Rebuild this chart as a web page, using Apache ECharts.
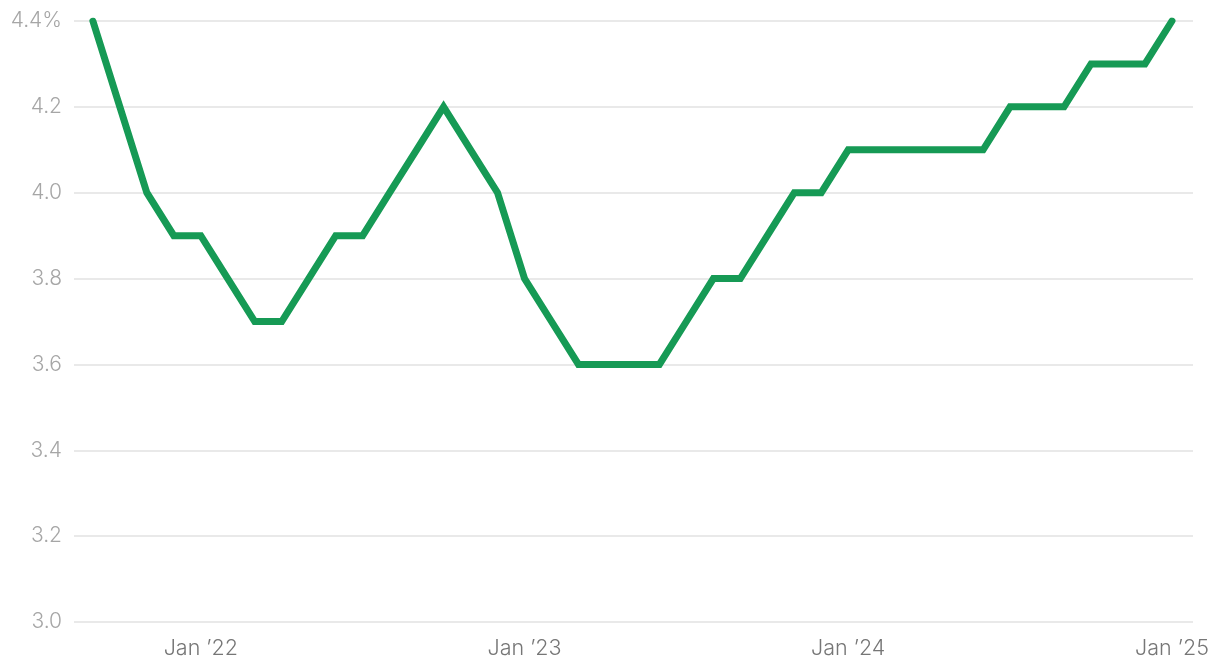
<!DOCTYPE html>
<html>
<head>
<meta charset="utf-8">
<script src="https://cdn.jsdelivr.net/npm/echarts@6/dist/echarts.min.js"></script>
<style>
html,body{margin:0;padding:0;background:#fff;}
#chart{width:1220px;height:672px;}
</style>
</head>
<body>
<div id="chart"></div>
<script>
const months = ['2021-09','2021-10','2021-11','2021-12',
  '2022-01','2022-02','2022-03','2022-04','2022-05','2022-06','2022-07','2022-08','2022-09','2022-10','2022-11','2022-12',
  '2023-01','2023-02','2023-03','2023-04','2023-05','2023-06','2023-07','2023-08','2023-09','2023-10','2023-11','2023-12',
  '2024-01','2024-02','2024-03','2024-04','2024-05','2024-06','2024-07','2024-08','2024-09','2024-10','2024-11','2024-12',
  '2025-01'];
const values = [4.4,4.2,4.0,3.9,
  3.9,3.8,3.7,3.7,3.8,3.9,3.9,4.0,4.1,4.2,4.1,4.0,
  3.8,3.7,3.6,3.6,3.6,3.6,3.7,3.8,3.8,3.9,4.0,4.0,
  4.1,4.1,4.1,4.1,4.1,4.1,4.2,4.2,4.2,4.3,4.3,4.3,
  4.4];
const xTickMonths = ['2022-01','2023-01','2024-01','2025-01'];
const yTicks = [3.0,3.2,3.4,3.6,3.8,4.0,4.2,4.4];

const seriesData = months.map((m,i)=>[i, values[i]]);
const tickIdx = xTickMonths.map(m=>months.indexOf(m));

const chart = echarts.init(document.getElementById('chart'), null, {renderer:'canvas'});
chart.setOption({
  animation:false,
  backgroundColor:'#fff',
  grid:{left:74,right:27,top:21,bottom:50,containLabel:false},
  xAxis:{
    type:'value',
    min:-0.7,
    max:months.length-1+0.78,
    axisLine:{show:false},
    axisTick:{show:false},
    splitLine:{show:false},
    axisLabel:{
      customValues:tickIdx,
      margin:16,
      color:'#767676',
      fontSize:21.5,
      fontWeight:300,
      fontFamily:'Inter',
      formatter:function(v){
        const m = months[Math.round(v)];
        if(!m) return '';
        return 'Jan \u2019' + m.slice(2,4);
      }
    }
  },
  yAxis:{
    type:'value',
    min:yTicks[0],
    max:yTicks[yTicks.length-1],
    interval:0.2,
    axisLine:{show:false},
    axisTick:{show:false},
    splitLine:{show:true,lineStyle:{color:'#e2e2e2',width:1.5}},
    axisLabel:{
      margin:12,
      color:'#a6a6a6',
      fontSize:21,
      fontWeight:300,
      fontFamily:'Inter',
      formatter:function(v){
        const s = v.toFixed(1);
        return Math.abs(v-yTicks[yTicks.length-1])<1e-6 ? s+'%' : s;
      }
    }
  },
  series:[{
    type:'line',
    data:seriesData,
    showSymbol:false,
    lineStyle:{color:'#169a55',width:7,cap:'round',join:'miter'},
    itemStyle:{color:'#169a55'}
  }]
});
</script>
</body>
</html>
